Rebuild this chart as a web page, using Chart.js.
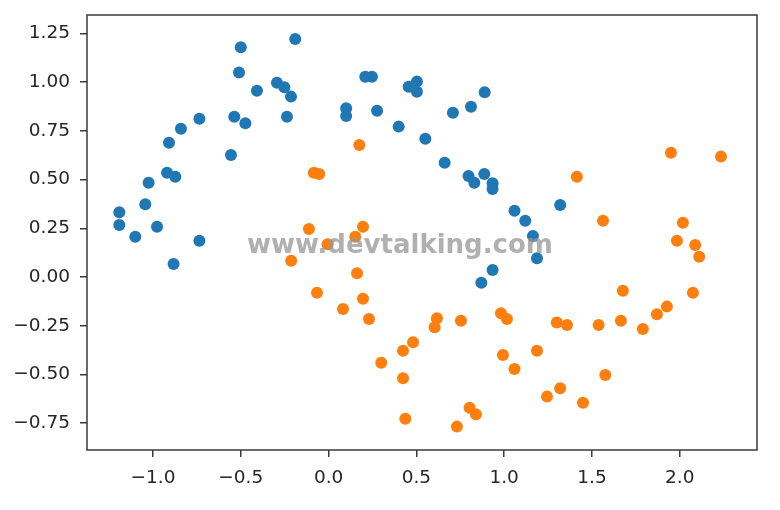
<!DOCTYPE html>
<html>
<head>
<meta charset="utf-8">
<script src="https://cdn.jsdelivr.net/npm/chart.js@4/dist/chart.umd.min.js"></script>
<style>
  html, body { margin: 0; padding: 0; background: #fff; }
  #wrap { width: 780px; height: 510px; }
</style>
</head>
<body>
<div id="wrap"><canvas id="moonChart" width="780" height="510"></canvas></div>
<script>
// class 0 (blue)
const blueX = [-0.19, -0.50, -0.51, -0.294, -0.252, -0.214, -0.408, -0.237, -0.537, -0.474,
    -0.736, -0.841, -0.909, -0.556, -0.920, -0.873, -1.025, -1.044, -1.192, -1.192,
    -0.977, -1.101, -0.736, -0.883, 0.209, 0.247, 0.456, 0.503, 0.503, 0.10,
    0.10, 0.276, 0.399, 0.708, 0.811, 0.889, 0.551, 0.661, 0.797, 0.830,
    0.887, 0.934, 0.934, 1.059, 1.12, 1.164, 1.187, 0.934, 0.870, 1.319];
const blueY = [1.222, 1.18, 1.05, 0.997, 0.974, 0.926, 0.956, 0.823, 0.823, 0.789,
    0.813, 0.761, 0.689, 0.626, 0.535, 0.515, 0.484, 0.373, 0.332, 0.267,
    0.258, 0.207, 0.186, 0.067, 1.028, 1.028, 0.977, 1.003, 0.951, 0.866,
    0.826, 0.854, 0.772, 0.843, 0.874, 0.948, 0.71, 0.587, 0.518, 0.484,
    0.529, 0.481, 0.452, 0.340, 0.289, 0.210, 0.096, 0.036, -0.029, 0.370];

// class 1 (orange)
const orangeX = [-0.084, -0.053, -0.112, -0.006, -0.213, 0.175, 0.196, 0.152, 0.162, -0.066,
    0.196, 0.082, 0.230, 0.617, 0.604, 0.754, 0.982, 1.016, 0.481, 0.424,
    0.30, 0.424, 0.993, 1.059, 0.437, 0.803, 0.839, 0.731, 1.95, 2.235,
    1.414, 1.563, 2.018, 1.984, 2.088, 2.111, 1.676, 2.075, 1.927, 1.87,
    1.79, 1.665, 1.538, 1.30, 1.358, 1.187, 1.576, 1.319, 1.244, 1.449];
const orangeY = [0.535, 0.529, 0.246, 0.168, 0.084, 0.678, 0.258, 0.207, 0.019, -0.081,
    -0.111, -0.164, -0.216, -0.212, -0.258, -0.224, -0.186, -0.216, -0.335, -0.378,
    -0.44, -0.52, -0.40, -0.472, -0.727, -0.671, -0.705, -0.768, 0.638, 0.618,
    0.515, 0.289, 0.279, 0.186, 0.164, 0.104, -0.070, -0.081, -0.152, -0.191,
    -0.267, -0.224, -0.246, -0.234, -0.246, -0.378, -0.503, -0.571, -0.614, -0.645];

const xTicks = [-1.0, -0.5, 0.0, 0.5, 1.0, 1.5, 2.0];
const yTicks = [-0.75, -0.5, -0.25, 0.0, 0.25, 0.5, 0.75, 1.0, 1.25];

const toPoints = (xs, ys) => xs.map((x, i) => ({ x: x, y: ys[i] }));
const mpl = (v, d) => v.toFixed(d).replace('-', '\u2212');

// matplotlib-style full box around the axes plus the site watermark
const boxPlugin = {
    id: 'box',
    afterDatasetsDraw(chart) {
        const a = chart.chartArea;
        const ctx = chart.ctx;
        ctx.save();
        ctx.font = 'bold 26px "DejaVu Sans"';
        ctx.fillStyle = 'rgba(150, 150, 150, 0.75)';
        ctx.textAlign = 'center';
        ctx.textBaseline = 'middle';
        ctx.fillText('www.devtalking.com', 400, 246);
        ctx.strokeStyle = '#3a3a3a';
        ctx.lineWidth = 1.5;
        ctx.strokeRect(a.left, a.top, a.right - a.left, a.bottom - a.top);
        ctx.restore();
    }
};

const tickFont = { family: '"DejaVu Sans"', size: 18.5 };

new Chart(document.getElementById('moonChart'), {
    type: 'scatter',
    data: {
        datasets: [{
            label: '0',
            data: toPoints(blueX, blueY),
            backgroundColor: '#1f77b4',
            borderWidth: 0,
            pointRadius: 6,
            pointHoverRadius: 6
        },
        {
            label: '1',
            data: toPoints(orangeX, orangeY),
            backgroundColor: '#ff7f0e',
            borderWidth: 0,
            pointRadius: 6,
            pointHoverRadius: 6
        }]
    },
    options: {
        responsive: false,
        animation: false,
        layout: { padding: { left: 0, right: 23, top: 15, bottom: 0 } },
        plugins: {
            legend: { display: false },
            tooltip: { enabled: false }
        },
        scales: {
            x: {
                type: 'linear',
                min: -1.376,
                max: 2.44,
                afterFit: s => { s.height = 60; s.paddingLeft = 0; s.paddingRight = 0; },
                afterBuildTicks: s => { s.ticks = xTicks.map(v => ({ value: v })); },
                border: { display: false },
                grid: { drawOnChartArea: false, drawTicks: true, tickLength: 7, color: '#3a3a3a', lineWidth: 1.5 },
                ticks: { color: '#262626', font: tickFont, padding: 10, maxRotation: 0,
                    callback: v => mpl(v, 1) }
            },
            y: {
                type: 'linear',
                min: -0.888,
                max: 1.345,
                afterFit: s => { s.width = 87; s.paddingTop = 0; s.paddingBottom = 0; },
                afterBuildTicks: s => { s.ticks = yTicks.map(v => ({ value: v })); },
                border: { display: false },
                grid: { drawOnChartArea: false, drawTicks: true, tickLength: 7, color: '#3a3a3a', lineWidth: 1.5 },
                ticks: { color: '#262626', font: tickFont, padding: 10,
                    callback: v => mpl(v, 2) }
            }
        }
    },
    plugins: [boxPlugin]
});
</script>
</body>
</html>
